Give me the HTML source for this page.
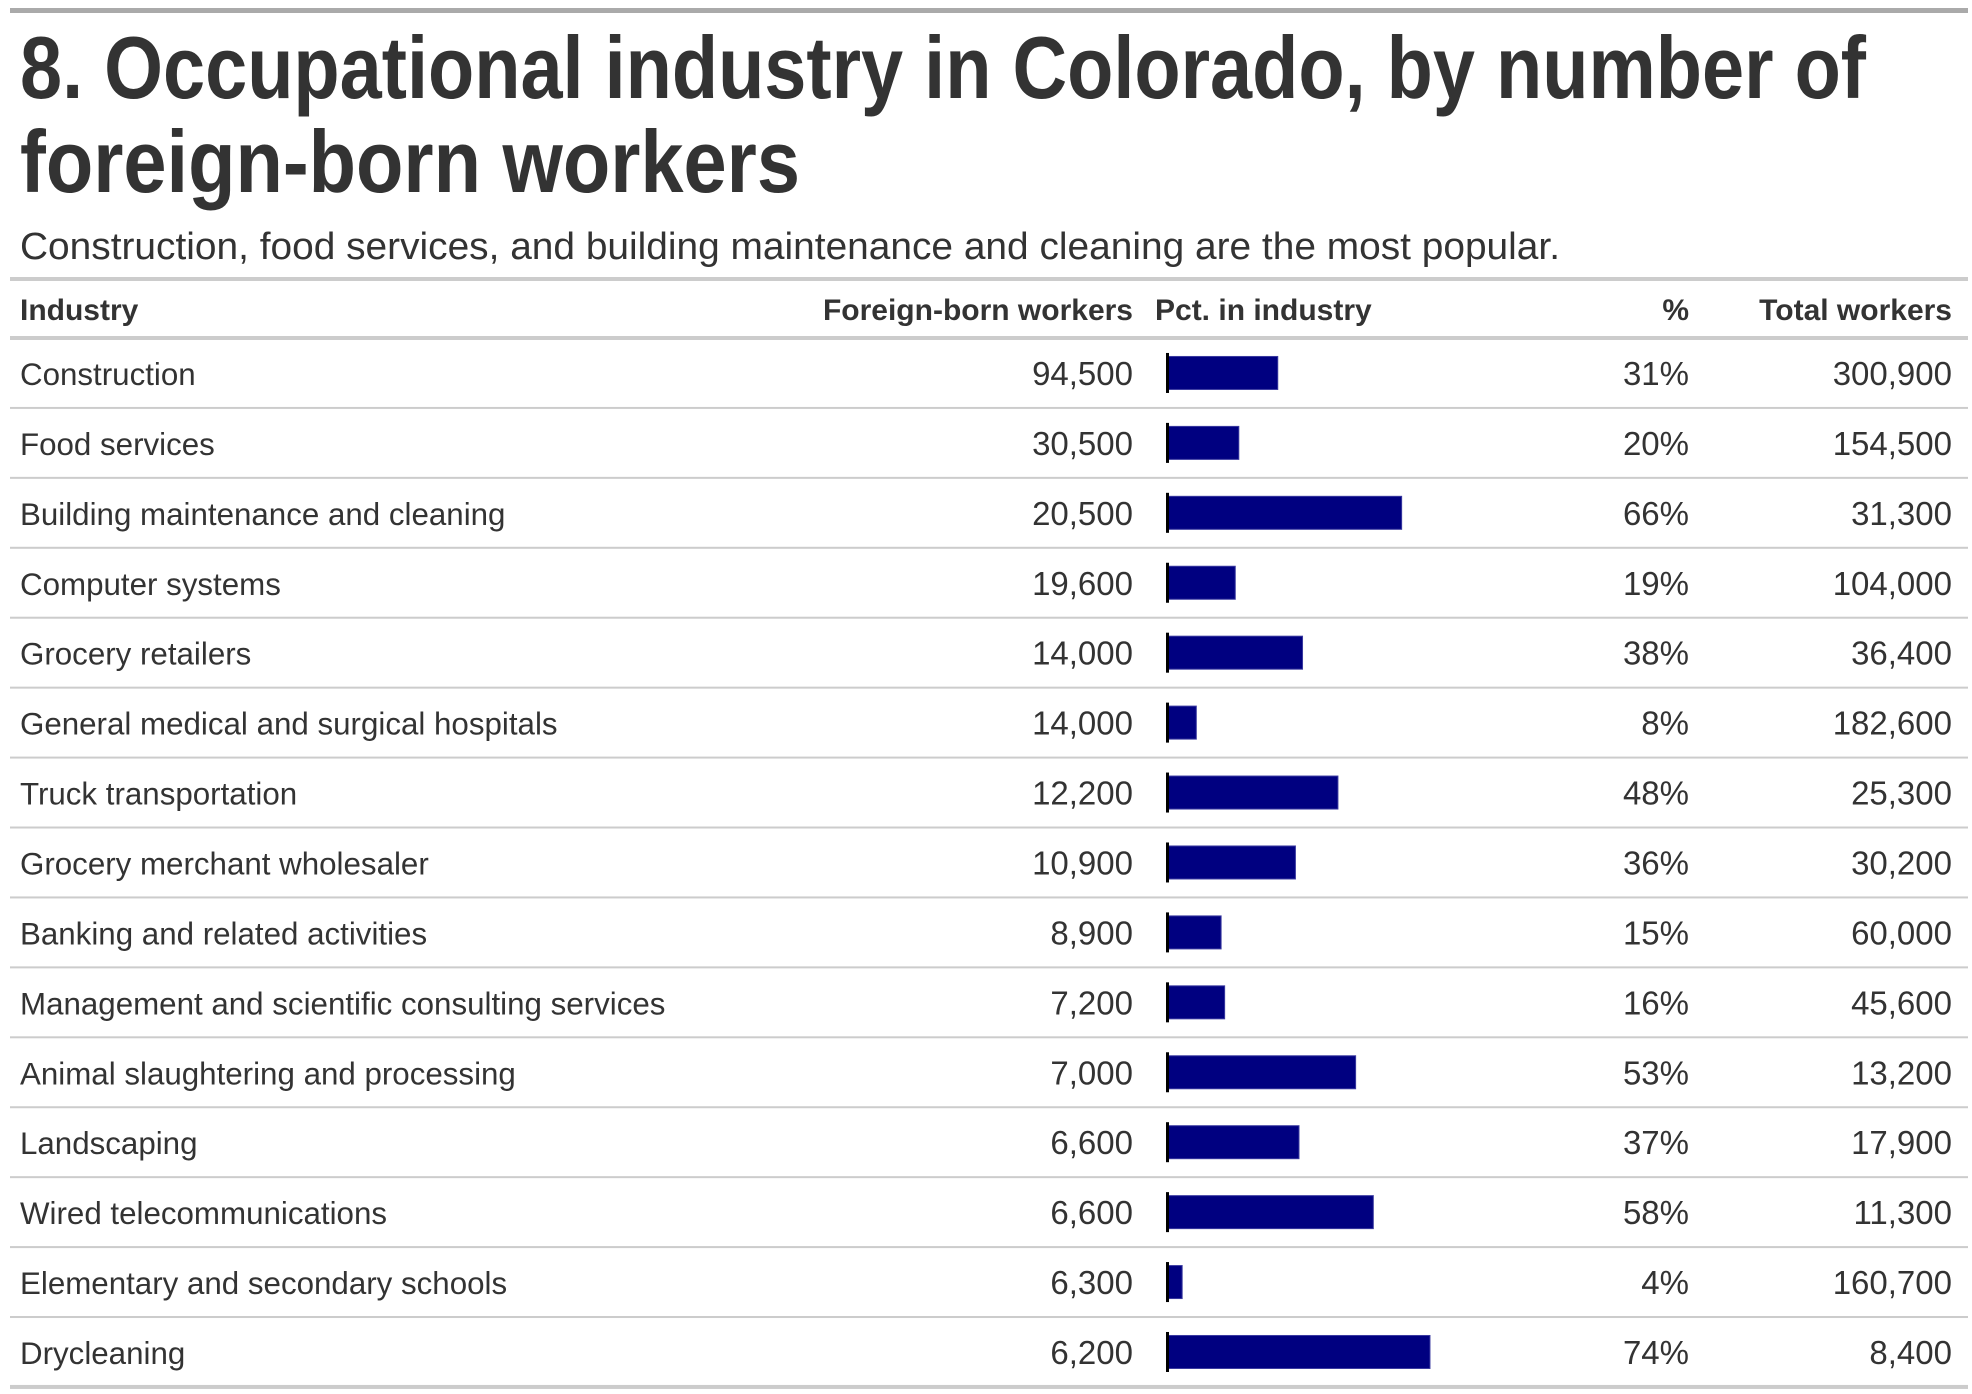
<!DOCTYPE html>
<html><head><meta charset="utf-8"><style>
html,body{margin:0;padding:0;background:#fff;}
svg{display:block;font-family:"Liberation Sans",Arial,sans-serif;}
</style></head><body>
<svg id="chart" width="1972" height="1394" viewBox="0 0 1972 1394" xmlns="http://www.w3.org/2000/svg">
<rect x="10" y="8" width="1958" height="5" fill="#aaaaaa"/>
<text x="20" y="98" font-size="88" font-weight="bold" fill="#333" textLength="1846" lengthAdjust="spacingAndGlyphs">8. Occupational industry in Colorado, by number of</text>
<text x="20" y="192" font-size="88" font-weight="bold" fill="#333" textLength="780" lengthAdjust="spacingAndGlyphs">foreign-born workers</text>
<text x="20" y="259" font-size="38" fill="#333" textLength="1540" lengthAdjust="spacingAndGlyphs">Construction, food services, and building maintenance and cleaning are the most popular.</text>
<rect x="10" y="277" width="1958" height="4" fill="#cccccc"/>
<g font-size="30" font-weight="bold" fill="#333">
<text x="20" y="320">Industry</text>
<text x="1133" y="320" text-anchor="end">Foreign-born workers</text>
<text x="1155" y="320">Pct. in industry</text>
<text x="1689" y="320" text-anchor="end">%</text>
<text x="1952" y="320" text-anchor="end">Total workers</text>
</g>
<rect x="10" y="336" width="1958" height="4" fill="#cccccc"/>
<g id="rows"></g>
</svg>
<script>
const industries = ["Construction","Food services","Building maintenance and cleaning","Computer systems","Grocery retailers","General medical and surgical hospitals","Truck transportation","Grocery merchant wholesaler","Banking and related activities","Management and scientific consulting services","Animal slaughtering and processing","Landscaping","Wired telecommunications","Elementary and secondary schools","Drycleaning"];
const foreignBorn = [94500,30500,20500,19600,14000,14000,12200,10900,8900,7200,7000,6600,6600,6300,6200];
const pctInIndustry = [31,20,66,19,38,8,48,36,15,16,53,37,58,4,74];
const totalWorkers = [300900,154500,31300,104000,36400,182600,25300,30200,60000,45600,13200,17900,11300,160700,8400];

const NS = "http://www.w3.org/2000/svg";
const g = document.getElementById("rows");
const top0 = 338, rowH = 69.93;
const x0 = 1168, pxPerPct = 3.54;
const xScale = v => x0 + v * pxPerPct;
const fmt = n => n.toLocaleString("en-US");
function mk(tag, attrs, txt){
  const e = document.createElementNS(NS, tag);
  for (const k in attrs) e.setAttribute(k, attrs[k]);
  if (txt !== undefined) e.textContent = txt;
  g.appendChild(e);
  return e;
}
industries.forEach((name, i) => {
  const cy = top0 + rowH * (i + 0.5);
  const base = cy + 12;
  let t = mk("text", {x:20, y:base, "font-size":31.3, fill:"#333"}, name);
  
  
  t = mk("text", {x:1133, y:base, "font-size":33, fill:"#333", "text-anchor":"end"}, fmt(foreignBorn[i]));
  
  
  const bar = mk("rect", {x:x0, y:cy-16.5, width:xScale(pctInIndustry[i]) - x0, height:33, fill:"#000080", stroke:"#3a3aa0", "stroke-width":1});
  
  
  const ax = mk("rect", {x:x0-2, y:cy-20, width:3, height:40, fill:"#000"});
  
  
  t = mk("text", {x:1689, y:base, "font-size":33, fill:"#333", "text-anchor":"end"}, pctInIndustry[i] + "%");
  
  
  t = mk("text", {x:1952, y:base, "font-size":33, fill:"#333", "text-anchor":"end"}, fmt(totalWorkers[i]));
  
  
  const last = i === industries.length - 1;
  const ln = mk("rect", {x:10, y: top0 + rowH*(i+1) - (last?2:1), width:1958, height: last?4:2, fill:"#cccccc"});
  
  
});
</script>
</body></html>
